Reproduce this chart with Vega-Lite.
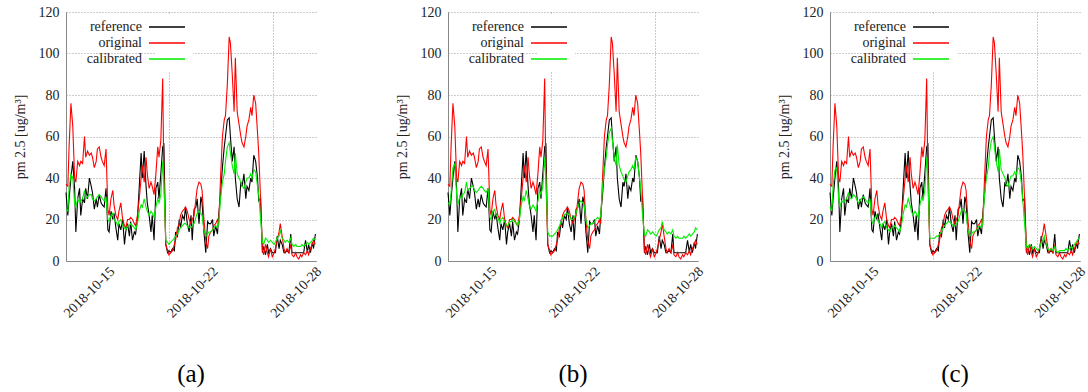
{
  "$schema": "https://vega.github.io/schema/vega-lite/v6.json",
  "padding": {"left": 13, "top": 5, "right": 0, "bottom": 0},
  "background": "white",
  "spacing": 132,
  "bounds": "flush",
  "datasets": {
    "pm": [
{"hour":0,"reference":33,"original":37,"cal_a":25,"cal_b":28,"cal_c":26},
{"hour":3,"reference":22,"original":36,"cal_a":24,"cal_b":27,"cal_c":24},
{"hour":5,"reference":30,"original":55,"cal_a":35,"cal_b":33,"cal_c":36},
{"hour":8,"reference":40,"original":76,"cal_a":42,"cal_b":45,"cal_c":44},
{"hour":11,"reference":48,"original":65,"cal_a":40,"cal_b":47,"cal_c":45},
{"hour":14,"reference":35,"original":40,"cal_a":28,"cal_b":32,"cal_c":30},
{"hour":16,"reference":14,"original":38,"cal_a":26,"cal_b":27,"cal_c":26},
{"hour":19,"reference":30,"original":48,"cal_a":30,"cal_b":31,"cal_c":29},
{"hour":22,"reference":35,"original":46,"cal_a":28,"cal_b":30,"cal_c":28},
{"hour":24,"reference":22,"original":48,"cal_a":29,"cal_b":32,"cal_c":29},
{"hour":27,"reference":30,"original":47,"cal_a":30,"cal_b":33,"cal_c":30},
{"hour":30,"reference":28,"original":60,"cal_a":34,"cal_b":38,"cal_c":33},
{"hour":32,"reference":35,"original":50,"cal_a":30,"cal_b":34,"cal_c":30},
{"hour":35,"reference":30,"original":53,"cal_a":31,"cal_b":35,"cal_c":30},
{"hour":38,"reference":40,"original":51,"cal_a":32,"cal_b":36,"cal_c":32},
{"hour":41,"reference":36,"original":52,"cal_a":32,"cal_b":36,"cal_c":31},
{"hour":43,"reference":33,"original":50,"cal_a":30,"cal_b":34,"cal_c":30},
{"hour":46,"reference":25,"original":45,"cal_a":29,"cal_b":33,"cal_c":28},
{"hour":49,"reference":30,"original":48,"cal_a":30,"cal_b":34,"cal_c":29},
{"hour":51,"reference":26,"original":54,"cal_a":31,"cal_b":35,"cal_c":30},
{"hour":54,"reference":32,"original":55,"cal_a":32,"cal_b":36,"cal_c":31},
{"hour":57,"reference":28,"original":50,"cal_a":31,"cal_b":35,"cal_c":30},
{"hour":59,"reference":27,"original":48,"cal_a":30,"cal_b":34,"cal_c":29},
{"hour":62,"reference":26,"original":46,"cal_a":29,"cal_b":33,"cal_c":28},
{"hour":65,"reference":35,"original":54,"cal_a":31,"cal_b":35,"cal_c":30},
{"hour":68,"reference":15,"original":25,"cal_a":20,"cal_b":21,"cal_c":19},
{"hour":70,"reference":14,"original":22,"cal_a":19,"cal_b":20,"cal_c":18},
{"hour":73,"reference":24,"original":30,"cal_a":22,"cal_b":24,"cal_c":21},
{"hour":76,"reference":20,"original":34,"cal_a":23,"cal_b":25,"cal_c":22},
{"hour":78,"reference":23,"original":27,"cal_a":20,"cal_b":22,"cal_c":19},
{"hour":81,"reference":16,"original":22,"cal_a":19,"cal_b":21,"cal_c":18},
{"hour":84,"reference":10,"original":20,"cal_a":17,"cal_b":18,"cal_c":16},
{"hour":86,"reference":18,"original":24,"cal_a":19,"cal_b":20,"cal_c":18},
{"hour":89,"reference":15,"original":28,"cal_a":20,"cal_b":21,"cal_c":19},
{"hour":92,"reference":20,"original":20,"cal_a":17,"cal_b":19,"cal_c":16},
{"hour":95,"reference":8,"original":17,"cal_a":16,"cal_b":17,"cal_c":15},
{"hour":97,"reference":14,"original":16,"cal_a":15,"cal_b":17,"cal_c":14},
{"hour":100,"reference":18,"original":20,"cal_a":17,"cal_b":19,"cal_c":16},
{"hour":103,"reference":12,"original":20,"cal_a":17,"cal_b":19,"cal_c":16},
{"hour":105,"reference":19,"original":21,"cal_a":18,"cal_b":20,"cal_c":17},
{"hour":108,"reference":10,"original":20,"cal_a":17,"cal_b":19,"cal_c":16},
{"hour":111,"reference":14,"original":18,"cal_a":16,"cal_b":18,"cal_c":15},
{"hour":113,"reference":13,"original":17,"cal_a":15,"cal_b":17,"cal_c":14},
{"hour":116,"reference":20,"original":22,"cal_a":18,"cal_b":20,"cal_c":17},
{"hour":119,"reference":36,"original":30,"cal_a":24,"cal_b":27,"cal_c":23},
{"hour":122,"reference":52,"original":40,"cal_a":27,"cal_b":31,"cal_c":27},
{"hour":124,"reference":40,"original":46,"cal_a":26,"cal_b":29,"cal_c":26},
{"hour":127,"reference":53,"original":38,"cal_a":30,"cal_b":34,"cal_c":30},
{"hour":130,"reference":36,"original":50,"cal_a":26,"cal_b":30,"cal_c":27},
{"hour":132,"reference":28,"original":42,"cal_a":24,"cal_b":27,"cal_c":24},
{"hour":135,"reference":22,"original":35,"cal_a":22,"cal_b":25,"cal_c":22},
{"hour":138,"reference":14,"original":38,"cal_a":24,"cal_b":27,"cal_c":24},
{"hour":140,"reference":22,"original":36,"cal_a":23,"cal_b":26,"cal_c":23},
{"hour":143,"reference":10,"original":32,"cal_a":21,"cal_b":24,"cal_c":21},
{"hour":146,"reference":35,"original":42,"cal_a":26,"cal_b":29,"cal_c":27},
{"hour":149,"reference":38,"original":55,"cal_a":30,"cal_b":34,"cal_c":31},
{"hour":151,"reference":30,"original":50,"cal_a":28,"cal_b":32,"cal_c":29},
{"hour":154,"reference":42,"original":58,"cal_a":32,"cal_b":36,"cal_c":34},
{"hour":157,"reference":55,"original":88,"cal_a":48,"cal_b":50,"cal_c":50},
{"hour":159,"reference":56,"original":40,"cal_a":38,"cal_b":40,"cal_c":40},
{"hour":162,"reference":8,"original":8,"cal_a":10,"cal_b":14,"cal_c":11},
{"hour":165,"reference":4,"original":5,"cal_a":9,"cal_b":12,"cal_c":11},
{"hour":167,"reference":5,"original":3,"cal_a":8,"cal_b":12,"cal_c":11},
{"hour":170,"reference":4,"original":4,"cal_a":9,"cal_b":12,"cal_c":11},
{"hour":173,"reference":6,"original":5,"cal_a":10,"cal_b":13,"cal_c":12},
{"hour":176,"reference":5,"original":8,"cal_a":11,"cal_b":14,"cal_c":12},
{"hour":178,"reference":14,"original":10,"cal_a":12,"cal_b":15,"cal_c":13},
{"hour":181,"reference":12,"original":16,"cal_a":13,"cal_b":17,"cal_c":14},
{"hour":184,"reference":20,"original":18,"cal_a":15,"cal_b":19,"cal_c":16},
{"hour":186,"reference":16,"original":22,"cal_a":16,"cal_b":21,"cal_c":17},
{"hour":189,"reference":22,"original":24,"cal_a":17,"cal_b":22,"cal_c":18},
{"hour":192,"reference":20,"original":25,"cal_a":18,"cal_b":23,"cal_c":19},
{"hour":194,"reference":26,"original":26,"cal_a":18,"cal_b":23,"cal_c":19},
{"hour":197,"reference":18,"original":24,"cal_a":17,"cal_b":22,"cal_c":18},
{"hour":200,"reference":14,"original":20,"cal_a":16,"cal_b":20,"cal_c":17},
{"hour":203,"reference":22,"original":18,"cal_a":16,"cal_b":20,"cal_c":17},
{"hour":205,"reference":10,"original":20,"cal_a":17,"cal_b":21,"cal_c":18},
{"hour":208,"reference":25,"original":22,"cal_a":18,"cal_b":23,"cal_c":19},
{"hour":211,"reference":26,"original":30,"cal_a":21,"cal_b":26,"cal_c":22},
{"hour":213,"reference":30,"original":35,"cal_a":23,"cal_b":28,"cal_c":24},
{"hour":216,"reference":18,"original":38,"cal_a":24,"cal_b":29,"cal_c":25},
{"hour":219,"reference":31,"original":37,"cal_a":23,"cal_b":28,"cal_c":24},
{"hour":221,"reference":28,"original":34,"cal_a":22,"cal_b":27,"cal_c":23},
{"hour":224,"reference":14,"original":20,"cal_a":15,"cal_b":20,"cal_c":15},
{"hour":227,"reference":4,"original":10,"cal_a":12,"cal_b":16,"cal_c":12},
{"hour":230,"reference":19,"original":6,"cal_a":13,"cal_b":17,"cal_c":13},
{"hour":232,"reference":18,"original":12,"cal_a":14,"cal_b":18,"cal_c":14},
{"hour":235,"reference":18,"original":14,"cal_a":14,"cal_b":18,"cal_c":14},
{"hour":238,"reference":20,"original":15,"cal_a":15,"cal_b":19,"cal_c":15},
{"hour":240,"reference":12,"original":17,"cal_a":16,"cal_b":20,"cal_c":16},
{"hour":243,"reference":17,"original":18,"cal_a":17,"cal_b":21,"cal_c":17},
{"hour":246,"reference":13,"original":20,"cal_a":16,"cal_b":20,"cal_c":16},
{"hour":248,"reference":22,"original":18,"cal_a":18,"cal_b":22,"cal_c":18},
{"hour":251,"reference":32,"original":40,"cal_a":30,"cal_b":36,"cal_c":32},
{"hour":254,"reference":45,"original":60,"cal_a":38,"cal_b":44,"cal_c":40},
{"hour":257,"reference":55,"original":68,"cal_a":42,"cal_b":50,"cal_c":45},
{"hour":259,"reference":60,"original":70,"cal_a":48,"cal_b":56,"cal_c":52},
{"hour":262,"reference":68,"original":85,"cal_a":55,"cal_b":62,"cal_c":58},
{"hour":265,"reference":69,"original":108,"cal_a":57,"cal_b":64,"cal_c":60},
{"hour":267,"reference":60,"original":105,"cal_a":52,"cal_b":58,"cal_c":55},
{"hour":270,"reference":48,"original":90,"cal_a":46,"cal_b":50,"cal_c":48},
{"hour":273,"reference":55,"original":72,"cal_a":42,"cal_b":46,"cal_c":43},
{"hour":275,"reference":40,"original":98,"cal_a":52,"cal_b":56,"cal_c":54},
{"hour":278,"reference":30,"original":72,"cal_a":42,"cal_b":46,"cal_c":44},
{"hour":281,"reference":26,"original":66,"cal_a":40,"cal_b":43,"cal_c":42},
{"hour":284,"reference":38,"original":60,"cal_a":38,"cal_b":41,"cal_c":40},
{"hour":286,"reference":36,"original":57,"cal_a":36,"cal_b":39,"cal_c":37},
{"hour":289,"reference":42,"original":55,"cal_a":35,"cal_b":38,"cal_c":36},
{"hour":292,"reference":30,"original":60,"cal_a":38,"cal_b":41,"cal_c":39},
{"hour":294,"reference":36,"original":65,"cal_a":40,"cal_b":43,"cal_c":41},
{"hour":297,"reference":34,"original":68,"cal_a":40,"cal_b":44,"cal_c":41},
{"hour":300,"reference":40,"original":74,"cal_a":42,"cal_b":46,"cal_c":43},
{"hour":302,"reference":38,"original":70,"cal_a":40,"cal_b":44,"cal_c":41},
{"hour":305,"reference":51,"original":80,"cal_a":44,"cal_b":50,"cal_c":45},
{"hour":308,"reference":48,"original":76,"cal_a":43,"cal_b":48,"cal_c":44},
{"hour":311,"reference":40,"original":62,"cal_a":36,"cal_b":40,"cal_c":37},
{"hour":313,"reference":29,"original":52,"cal_a":32,"cal_b":35,"cal_c":30},
{"hour":316,"reference":30,"original":30,"cal_a":20,"cal_b":22,"cal_c":18},
{"hour":319,"reference":4,"original":5,"cal_a":9,"cal_b":13,"cal_c":7},
{"hour":321,"reference":7,"original":3,"cal_a":8,"cal_b":12,"cal_c":6},
{"hour":324,"reference":3,"original":8,"cal_a":11,"cal_b":15,"cal_c":8},
{"hour":327,"reference":8,"original":4,"cal_a":10,"cal_b":14,"cal_c":7},
{"hour":329,"reference":4,"original":2,"cal_a":9,"cal_b":13,"cal_c":6},
{"hour":332,"reference":6,"original":6,"cal_a":10,"cal_b":14,"cal_c":7},
{"hour":335,"reference":4,"original":2,"cal_a":9,"cal_b":13,"cal_c":6},
{"hour":338,"reference":4,"original":4,"cal_a":8,"cal_b":12,"cal_c":5},
{"hour":340,"reference":4,"original":6,"cal_a":9,"cal_b":13,"cal_c":6},
{"hour":343,"reference":12,"original":10,"cal_a":11,"cal_b":15,"cal_c":9},
{"hour":346,"reference":6,"original":14,"cal_a":12,"cal_b":16,"cal_c":10},
{"hour":348,"reference":10,"original":18,"cal_a":15,"cal_b":19,"cal_c":12},
{"hour":351,"reference":8,"original":12,"cal_a":11,"cal_b":15,"cal_c":8},
{"hour":354,"reference":4,"original":6,"cal_a":10,"cal_b":14,"cal_c":6},
{"hour":356,"reference":4,"original":4,"cal_a":9,"cal_b":13,"cal_c":5},
{"hour":359,"reference":5,"original":6,"cal_a":10,"cal_b":14,"cal_c":6},
{"hour":362,"reference":4,"original":4,"cal_a":9,"cal_b":13,"cal_c":5},
{"hour":365,"reference":13,"original":8,"cal_a":11,"cal_b":15,"cal_c":7},
{"hour":367,"reference":4,"original":3,"cal_a":8,"cal_b":12,"cal_c":5},
{"hour":370,"reference":4,"original":2,"cal_a":7,"cal_b":11,"cal_c":4},
{"hour":373,"reference":4,"original":4,"cal_a":8,"cal_b":12,"cal_c":5},
{"hour":375,"reference":4,"original":2,"cal_a":7,"cal_b":11,"cal_c":5},
{"hour":378,"reference":4,"original":1,"cal_a":7,"cal_b":11,"cal_c":5},
{"hour":381,"reference":4,"original":3,"cal_a":7,"cal_b":11,"cal_c":5},
{"hour":383,"reference":4,"original":2,"cal_a":8,"cal_b":12,"cal_c":6},
{"hour":386,"reference":4,"original":4,"cal_a":7,"cal_b":11,"cal_c":5},
{"hour":389,"reference":10,"original":3,"cal_a":8,"cal_b":12,"cal_c":6},
{"hour":392,"reference":4,"original":5,"cal_a":9,"cal_b":13,"cal_c":7},
{"hour":394,"reference":8,"original":3,"cal_a":8,"cal_b":12,"cal_c":6},
{"hour":397,"reference":4,"original":6,"cal_a":9,"cal_b":13,"cal_c":8},
{"hour":400,"reference":9,"original":8,"cal_a":10,"cal_b":14,"cal_c":9},
{"hour":402,"reference":6,"original":10,"cal_a":11,"cal_b":16,"cal_c":10},
{"hour":405,"reference":13,"original":8,"cal_a":10,"cal_b":15,"cal_c":11}
    ]
  },
  "hconcat": [
    {
      "width": 250, "height": 249,
      "data": {"name": "pm"},
      "title": {"text": "(a)", "orient": "bottom"},
      "transform": [
        {"fold": ["reference", "original", "cal_a"], "as": ["key", "value"]},
        {"calculate": "datum.key == 'cal_a' ? 'calibrated' : datum.key", "as": "series"}
      ],
      "mark": {"type": "line", "strokeWidth": 1.1},
      "encoding": {
        "x": {"field": "hour", "type": "quantitative", "scale": {"domain": [0, 406], "nice": false, "zero": false},
              "axis": {"values": [0, 168, 336], "labelExpr": "datum.value == 0 ? '2018-10-15' : datum.value == 168 ? '2018-10-22' : '2018-10-28'", "title": null}},
        "y": {"field": "value", "type": "quantitative", "scale": {"domain": [0, 120], "nice": false},
              "axis": {"values": [0, 20, 40, 60, 80, 100, 120], "title": "pm 2.5 [ug/m³]"}},
        "color": {"field": "series", "type": "nominal", "scale": {"domain": ["reference", "original", "calibrated"], "range": ["#000000", "#ff0000", "#00ee00"]}}
      }
    },
    {
      "width": 250, "height": 249,
      "data": {"name": "pm"},
      "title": {"text": "(b)", "orient": "bottom"},
      "transform": [
        {"fold": ["reference", "original", "cal_b"], "as": ["key", "value"]},
        {"calculate": "datum.key == 'cal_b' ? 'calibrated' : datum.key", "as": "series"}
      ],
      "mark": {"type": "line", "strokeWidth": 1.1},
      "encoding": {
        "x": {"field": "hour", "type": "quantitative", "scale": {"domain": [0, 406], "nice": false, "zero": false},
              "axis": {"values": [0, 168, 336], "labelExpr": "datum.value == 0 ? '2018-10-15' : datum.value == 168 ? '2018-10-22' : '2018-10-28'", "title": null}},
        "y": {"field": "value", "type": "quantitative", "scale": {"domain": [0, 120], "nice": false},
              "axis": {"values": [0, 20, 40, 60, 80, 100, 120], "title": "pm 2.5 [ug/m³]"}},
        "color": {"field": "series", "type": "nominal", "scale": {"domain": ["reference", "original", "calibrated"], "range": ["#000000", "#ff0000", "#00ee00"]}}
      }
    },
    {
      "width": 250, "height": 249,
      "data": {"name": "pm"},
      "title": {"text": "(c)", "orient": "bottom"},
      "transform": [
        {"fold": ["reference", "original", "cal_c"], "as": ["key", "value"]},
        {"calculate": "datum.key == 'cal_c' ? 'calibrated' : datum.key", "as": "series"}
      ],
      "mark": {"type": "line", "strokeWidth": 1.1},
      "encoding": {
        "x": {"field": "hour", "type": "quantitative", "scale": {"domain": [0, 406], "nice": false, "zero": false},
              "axis": {"values": [0, 168, 336], "labelExpr": "datum.value == 0 ? '2018-10-15' : datum.value == 168 ? '2018-10-22' : '2018-10-28'", "title": null}},
        "y": {"field": "value", "type": "quantitative", "scale": {"domain": [0, 120], "nice": false},
              "axis": {"values": [0, 20, 40, 60, 80, 100, 120], "title": "pm 2.5 [ug/m³]"}},
        "color": {"field": "series", "type": "nominal", "scale": {"domain": ["reference", "original", "calibrated"], "range": ["#000000", "#ff0000", "#00ee00"]}}
      }
    }
  ],
  "resolve": {"scale": {"color": "independent", "x": "independent", "y": "independent"}, "legend": {"color": "independent"}, "axis": {"x": "independent", "y": "independent"}},
  "config": {
    "font": "Liberation Serif",
    "view": {"stroke": null},
    "title": {"font": "Liberation Serif", "fontSize": 25, "fontWeight": "normal", "color": "#000", "offset": 42, "anchor": "middle"},
    "axisX": {
      "labelAngle": -45, "labelAlign": "right", "labelBaseline": "middle",
      "labelOffset": 46, "labelPadding": 8, "labelOverlap": false, "labelFlush": false, "labelBound": false
    },
    "axisY": {
      "titlePadding": 11,
      "labelPadding": 7
    },
    "axis": {
      "grid": true, "gridColor": "#9a9a9a", "gridDash": [1, 2], "gridWidth": 1,
      "domainColor": "#888888", "domainWidth": 1,
      "ticks": false,
      "labelFont": "Liberation Serif", "labelFontSize": 14, "labelColor": "#222222",
      "titleFont": "Liberation Serif", "titleFontSize": 14, "titleFontWeight": "normal", "titleColor": "#222222"
    },
    "legend": {
      "orient": "none", "legendX": 89, "legendY": 3,
      "title": null,
      "symbolType": "M-3,0H3", "symbolSize": 144, "symbolStrokeWidth": 1.5,
      "labelAlign": "right", "labelOffset": -32,
      "labelFont": "Liberation Serif", "labelFontSize": 14, "labelColor": "#222222",
      "fillColor": "white", "padding": 5, "rowPadding": 2
    }
  }
}
